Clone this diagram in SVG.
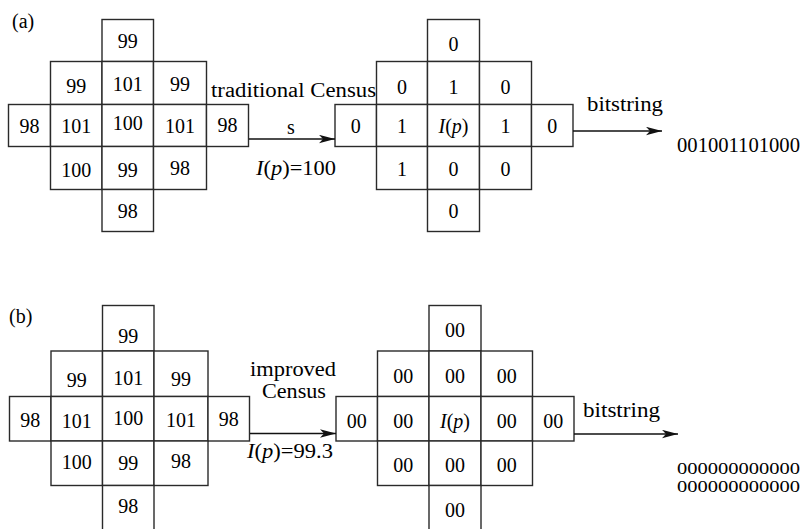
<svg xmlns="http://www.w3.org/2000/svg" width="803" height="529" viewBox="0 0 803 529">
<style>
.cell{fill:#fff;stroke:#2a2a2a;stroke-width:1.4}
.t{font-family:"Liberation Serif","Times New Roman",serif;font-size:20px;fill:#000;text-anchor:middle}
.l{font-family:"Liberation Serif","Times New Roman",serif;font-size:20px;fill:#000}
.i{font-style:italic}
.conn{stroke:#111;stroke-width:1.6;fill:none;marker-end:url(#arr)}
</style>
<defs>
<marker id="arr" markerUnits="userSpaceOnUse" markerWidth="17" markerHeight="10" refX="16" refY="4.5" orient="auto">
<path d="M0,0.3 L16,4.5 L0,8.7 L4,4.5 z" fill="#111"/>
</marker>
</defs>
<rect width="803" height="529" fill="#fff"/>

<g id="label-a"><text class="l" x="12" y="28">(a)</text></g>
<g id="label-b"><text class="l" x="9" y="323">(b)</text></g>

<g id="grid-a-input">
<rect class="cell" x="102" y="19.5" width="51.5" height="42"/>
<rect class="cell" x="50.5" y="61.5" width="51.5" height="43"/>
<rect class="cell" x="102" y="61.5" width="51.5" height="43"/>
<rect class="cell" x="153.5" y="61.5" width="53" height="43"/>
<rect class="cell" x="8.5" y="104.5" width="42" height="42"/>
<rect class="cell" x="50.5" y="104.5" width="51.5" height="42"/>
<rect class="cell" x="102" y="104.5" width="51.5" height="42"/>
<rect class="cell" x="153.5" y="104.5" width="53" height="42"/>
<rect class="cell" x="206.5" y="104.5" width="42" height="42"/>
<rect class="cell" x="50.5" y="146.5" width="51.5" height="43"/>
<rect class="cell" x="102" y="146.5" width="51.5" height="43"/>
<rect class="cell" x="153.5" y="146.5" width="53" height="43"/>
<rect class="cell" x="102" y="189.5" width="51.5" height="42"/>
<text class="t" x="127.75" y="48">99</text>
<text class="t" x="76.25" y="93">99</text>
<text class="t" x="127.75" y="91">101</text>
<text class="t" x="180" y="91">99</text>
<text class="t" x="29.5" y="133">98</text>
<text class="t" x="76.25" y="133">101</text>
<text class="t" x="127.75" y="130">100</text>
<text class="t" x="180" y="133">101</text>
<text class="t" x="227.5" y="132">98</text>
<text class="t" x="76.25" y="176.5">100</text>
<text class="t" x="127.75" y="176.5">99</text>
<text class="t" x="180" y="175">98</text>
<text class="t" x="127.75" y="218">98</text>
</g>

<g id="grid-a-output">
<rect class="cell" x="427.5" y="19.5" width="52" height="42"/>
<rect class="cell" x="376.5" y="61.5" width="51" height="43"/>
<rect class="cell" x="427.5" y="61.5" width="52" height="43"/>
<rect class="cell" x="479.5" y="61.5" width="52" height="43"/>
<rect class="cell" x="335" y="104.5" width="41.5" height="42"/>
<rect class="cell" x="376.5" y="104.5" width="51" height="42"/>
<rect class="cell" x="427.5" y="104.5" width="52" height="42"/>
<rect class="cell" x="479.5" y="104.5" width="52" height="42"/>
<rect class="cell" x="531.5" y="104.5" width="41.5" height="42"/>
<rect class="cell" x="376.5" y="146.5" width="51" height="43"/>
<rect class="cell" x="427.5" y="146.5" width="52" height="43"/>
<rect class="cell" x="479.5" y="146.5" width="52" height="43"/>
<rect class="cell" x="427.5" y="189.5" width="52" height="42"/>
<text class="t" x="453.5" y="50.5">0</text>
<text class="t" x="402" y="94">0</text>
<text class="t" x="453.5" y="94">1</text>
<text class="t" x="505.5" y="94">0</text>
<text class="t" x="355.75" y="132.5">0</text>
<text class="t" x="402" y="132.5">1</text>
<text class="t" x="453.5" y="132.5"><tspan class="i">I</tspan>(<tspan class="i">p</tspan>)</text>
<text class="t" x="505.5" y="132.5">1</text>
<text class="t" x="552.25" y="132.5">0</text>
<text class="t" x="402" y="175.5">1</text>
<text class="t" x="453.5" y="175.5">0</text>
<text class="t" x="505.5" y="175.5">0</text>
<text class="t" x="453.5" y="218">0</text>
</g>

<g id="grid-b-input">
<rect class="cell" x="102.5" y="305.5" width="51.5" height="45.5"/>
<rect class="cell" x="51" y="351" width="51.5" height="45.5"/>
<rect class="cell" x="102.5" y="351" width="51.5" height="45.5"/>
<rect class="cell" x="154" y="351" width="54" height="45.5"/>
<rect class="cell" x="9.5" y="396.5" width="41.5" height="44.5"/>
<rect class="cell" x="51" y="396.5" width="51.5" height="44.5"/>
<rect class="cell" x="102.5" y="396.5" width="51.5" height="44.5"/>
<rect class="cell" x="154" y="396.5" width="54" height="44.5"/>
<rect class="cell" x="208" y="396.5" width="41.5" height="44.5"/>
<rect class="cell" x="51" y="441" width="51.5" height="44.5"/>
<rect class="cell" x="102.5" y="441" width="51.5" height="44.5"/>
<rect class="cell" x="154" y="441" width="54" height="44.5"/>
<rect class="cell" x="102.5" y="485.5" width="51.5" height="50"/>
<text class="t" x="128.25" y="343">99</text>
<text class="t" x="76.75" y="386.5">99</text>
<text class="t" x="128.25" y="384.5">101</text>
<text class="t" x="181" y="386">99</text>
<text class="t" x="30.25" y="426.5">98</text>
<text class="t" x="76.75" y="428">101</text>
<text class="t" x="128.25" y="424.5">100</text>
<text class="t" x="181" y="427">101</text>
<text class="t" x="228.75" y="425.5">98</text>
<text class="t" x="76.75" y="468.5">100</text>
<text class="t" x="128.25" y="470">99</text>
<text class="t" x="181" y="468">98</text>
<text class="t" x="128.25" y="512.5">98</text>
</g>

<g id="grid-b-output">
<rect class="cell" x="429" y="305.5" width="52" height="45.5"/>
<rect class="cell" x="377.5" y="351" width="51.5" height="45.5"/>
<rect class="cell" x="429" y="351" width="52" height="45.5"/>
<rect class="cell" x="481" y="351" width="51.5" height="45.5"/>
<rect class="cell" x="336" y="396.5" width="41.5" height="44.5"/>
<rect class="cell" x="377.5" y="396.5" width="51.5" height="44.5"/>
<rect class="cell" x="429" y="396.5" width="52" height="44.5"/>
<rect class="cell" x="481" y="396.5" width="51.5" height="44.5"/>
<rect class="cell" x="532.5" y="396.5" width="41.5" height="44.5"/>
<rect class="cell" x="377.5" y="441" width="51.5" height="44.5"/>
<rect class="cell" x="429" y="441" width="52" height="44.5"/>
<rect class="cell" x="481" y="441" width="51.5" height="44.5"/>
<rect class="cell" x="429" y="485.5" width="52" height="50"/>
<text class="t" x="455" y="336.5">00</text>
<text class="t" x="403.25" y="383">00</text>
<text class="t" x="455" y="383">00</text>
<text class="t" x="506.75" y="383">00</text>
<text class="t" x="356.75" y="428">00</text>
<text class="t" x="403.25" y="428">00</text>
<text class="t" x="455" y="428"><tspan class="i">I</tspan>(<tspan class="i">p</tspan>)</text>
<text class="t" x="506.75" y="428">00</text>
<text class="t" x="553.25" y="428">00</text>
<text class="t" x="403.25" y="471.5">00</text>
<text class="t" x="455" y="471.5">00</text>
<text class="t" x="506.75" y="471.5">00</text>
<text class="t" x="455" y="516.5">00</text>
</g>

<g id="connectors">
<line class="conn" x1="249" y1="139" x2="335" y2="139"/>
<line class="conn" x1="573" y1="131" x2="662" y2="131"/>
<line class="conn" x1="250" y1="433.5" x2="336" y2="433.5"/>
<line class="conn" x1="574" y1="434" x2="678" y2="434"/>
</g>

<g id="edge-labels">
<text class="l" x="211" y="96.5" textLength="165" lengthAdjust="spacingAndGlyphs">traditional Census</text>
<text class="t" x="291" y="134">s</text>
<text class="l" x="256" y="174.5" textLength="80" lengthAdjust="spacingAndGlyphs"><tspan class="i">I</tspan>(<tspan class="i">p</tspan>)=100</text>
<text class="l" x="587" y="110.5" textLength="76" lengthAdjust="spacingAndGlyphs">bitstring</text>
<text class="l" x="250" y="375.5" textLength="86" lengthAdjust="spacingAndGlyphs">improved</text>
<text class="l" x="262" y="398" textLength="64" lengthAdjust="spacingAndGlyphs">Census</text>
<text class="l" x="247" y="457.5" textLength="86" lengthAdjust="spacingAndGlyphs"><tspan class="i">I</tspan>(<tspan class="i">p</tspan>)=99.3</text>
<text class="l" x="583" y="417" textLength="77" lengthAdjust="spacingAndGlyphs">bitstring</text>
</g>

<g id="bitstring-a"><text class="l" x="677" y="151.5" textLength="123" lengthAdjust="spacingAndGlyphs">001001101000</text></g>
<g id="bitstring-b">
<text class="l" style="font-size:16px" x="677" y="474" textLength="123" lengthAdjust="spacingAndGlyphs">000000000000</text>
<text class="l" style="font-size:16px" x="677" y="492" textLength="123" lengthAdjust="spacingAndGlyphs">000000000000</text>
</g>
</svg>
